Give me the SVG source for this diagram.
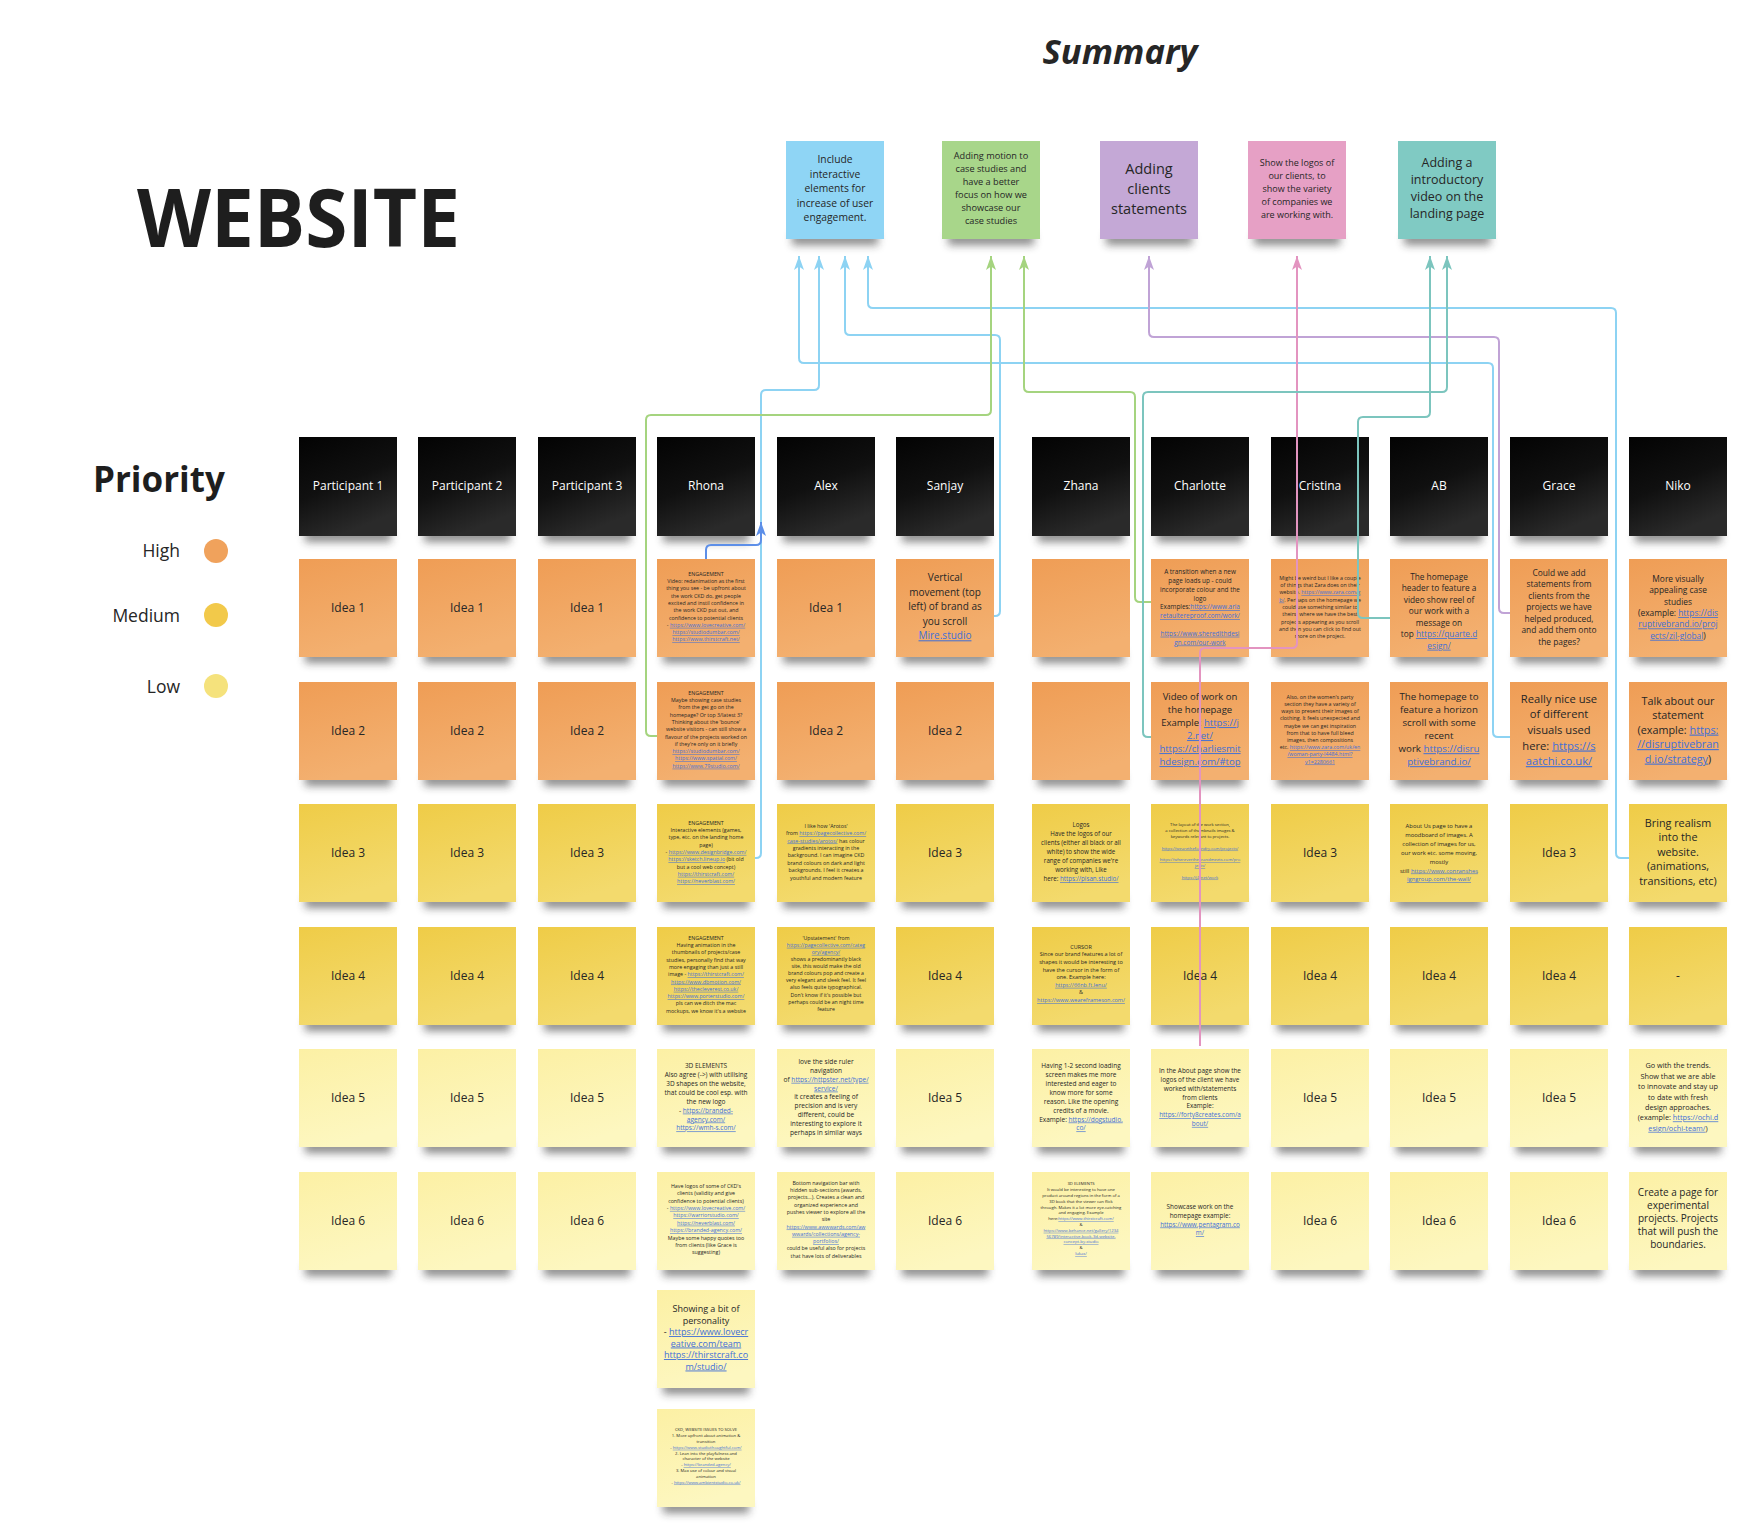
<svg xmlns="http://www.w3.org/2000/svg" width="1762" height="1532" viewBox="0 0 1762 1532">
<defs>
<linearGradient id="gOr" x1="0" y1="0" x2="0.3" y2="1"><stop offset="0" stop-color="#ef9d55"/><stop offset="1" stop-color="#f3b070"/></linearGradient>
<linearGradient id="gMe" x1="0" y1="0" x2="0.3" y2="1"><stop offset="0" stop-color="#efcc47"/><stop offset="1" stop-color="#f3da6d"/></linearGradient>
<linearGradient id="gLo" x1="0" y1="0" x2="0.3" y2="1"><stop offset="0" stop-color="#fcf0a4"/><stop offset="1" stop-color="#fdf7c0"/></linearGradient>
<linearGradient id="gHd" x1="0" y1="0" x2="0.4" y2="1"><stop offset="0" stop-color="#030303"/><stop offset="0.55" stop-color="#101010"/><stop offset="1" stop-color="#2a2a2a"/></linearGradient>
<filter id="sb" x="-20%" y="-100%" width="140%" height="300%"><feGaussianBlur stdDeviation="4"/></filter>
<marker id="mB" viewBox="0 0 14 10" refX="14" refY="5" markerWidth="14" markerHeight="10" markerUnits="userSpaceOnUse" orient="auto"><path d="M0,0 L14,5 L0,10 L3.5,5 Z" fill="#8dd3f3"/></marker>
<marker id="mG" viewBox="0 0 14 10" refX="14" refY="5" markerWidth="14" markerHeight="10" markerUnits="userSpaceOnUse" orient="auto"><path d="M0,0 L14,5 L0,10 L3.5,5 Z" fill="#a5d47f"/></marker>
<marker id="mP" viewBox="0 0 14 10" refX="14" refY="5" markerWidth="14" markerHeight="10" markerUnits="userSpaceOnUse" orient="auto"><path d="M0,0 L14,5 L0,10 L3.5,5 Z" fill="#c0a3d6"/></marker>
<marker id="mK" viewBox="0 0 14 10" refX="14" refY="5" markerWidth="14" markerHeight="10" markerUnits="userSpaceOnUse" orient="auto"><path d="M0,0 L14,5 L0,10 L3.5,5 Z" fill="#e394c0"/></marker>
<marker id="mT" viewBox="0 0 14 10" refX="14" refY="5" markerWidth="14" markerHeight="10" markerUnits="userSpaceOnUse" orient="auto"><path d="M0,0 L14,5 L0,10 L3.5,5 Z" fill="#7cc5be"/></marker>
<marker id="mD" viewBox="0 0 14 10" refX="14" refY="5" markerWidth="14" markerHeight="10" markerUnits="userSpaceOnUse" orient="auto"><path d="M0,0 L14,5 L0,10 L3.5,5 Z" fill="#5d8fe8"/></marker>
</defs>
<style>
text{font-family:'Open Sans','Noto Sans','Liberation Sans',sans-serif;fill:#262626;text-anchor:middle}
.lk{fill:#3f6fd8;text-decoration:underline}
.sh{fill:#2a2a2a;opacity:.55;filter:url(#sb)}
.or{fill:url(#gOr)}
.me{fill:url(#gMe)}
.lo{fill:url(#gLo)}
.hb{fill:url(#gHd)}
.cn{fill:none;stroke-width:2;stroke-linejoin:round}
.bl{stroke:#8dd3f3}.gr{stroke:#a5d47f}.pu{stroke:#c0a3d6}.pk{stroke:#e394c0}.te{stroke:#7cc5be}.db{stroke:#5d8fe8}
.idea{font-size:12px}
.hdt{font-size:12px;fill:#ffffff}
</style>
<rect width="1762" height="1532" fill="#ffffff"/>

<!-- Titles and legend -->
<g id="titles">
<text x="1120" y="64" font-size="34" font-weight="700" font-style="italic" textLength="155" lengthAdjust="spacingAndGlyphs">Summary</text>
<text x="137" y="247" font-size="80" font-weight="700" style="text-anchor:start;fill:#1e1e1e" textLength="323" lengthAdjust="spacingAndGlyphs">WEBSITE</text>
<text x="93" y="492" font-size="35" font-weight="700" style="text-anchor:start;fill:#1e1e1e">Priority</text>
</g>
<g id="legend">
<text x="180" y="557" font-size="17.5" style="text-anchor:end">High</text>
<circle cx="216" cy="551" r="12" fill="#f0a25c"/>
<text x="180" y="622" font-size="17.5" style="text-anchor:end">Medium</text>
<circle cx="216" cy="615" r="12" fill="#f2c94a"/>
<text x="180" y="693" font-size="17.5" style="text-anchor:end">Low</text>
<circle cx="216" cy="686" r="12" fill="#f5e27c"/>
</g>

<!-- Summary notes -->
<g id="sum-blue"><rect class="sh" x="792" y="233" width="86" height="12"/><rect x="786" y="141" width="98" height="98" fill="#8fd5f5"/>
<text font-size="10.3"><tspan x="835" y="163.4">Include</tspan><tspan x="835" dy="14.5">interactive</tspan><tspan x="835" dy="14.5">elements for</tspan><tspan x="835" dy="14.5">increase of user</tspan><tspan x="835" dy="14.5">engagement.</tspan></text></g>
<g id="sum-green"><rect class="sh" x="948" y="233" width="86" height="12"/><rect x="942" y="141" width="98" height="98" fill="#a8d68a"/>
<text font-size="9.2"><tspan x="991" y="159">Adding motion to</tspan><tspan x="991" dy="13">case studies and</tspan><tspan x="991" dy="13">have a better</tspan><tspan x="991" dy="13">focus on how we</tspan><tspan x="991" dy="13">showcase our</tspan><tspan x="991" dy="13">case studies</tspan></text></g>
<g id="sum-purple"><rect class="sh" x="1106" y="233" width="86" height="12"/><rect x="1100" y="141" width="98" height="98" fill="#c4a8d6"/>
<text font-size="14.5"><tspan x="1149" y="173.8">Adding</tspan><tspan x="1149" dy="20">clients</tspan><tspan x="1149" dy="20">statements</tspan></text></g>
<g id="sum-pink"><rect class="sh" x="1254" y="233" width="86" height="12"/><rect x="1248" y="141" width="98" height="98" fill="#e6a0c5"/>
<text font-size="9"><tspan x="1297" y="166">Show the logos of</tspan><tspan x="1297" dy="13">our clients, to</tspan><tspan x="1297" dy="13">show the variety</tspan><tspan x="1297" dy="13">of companies  we</tspan><tspan x="1297" dy="13">are working with.</tspan></text></g>
<g id="sum-teal"><rect class="sh" x="1404" y="233" width="86" height="12"/><rect x="1398" y="141" width="98" height="98" fill="#80cac3"/>
<text font-size="12.5"><tspan x="1447" y="167.1">Adding a</tspan><tspan x="1447" dy="17">introductory</tspan><tspan x="1447" dy="17">video on the</tspan><tspan x="1447" dy="17">landing page</tspan></text></g>

<!-- Headers -->
<g id="h-p1"><rect class="sh" x="305" y="530" width="86" height="12"/><rect class="hb" x="299" y="437" width="98" height="99"/><text class="hdt" x="348" y="490">Participant 1</text></g>
<g id="h-p2"><rect class="sh" x="424" y="530" width="86" height="12"/><rect class="hb" x="418" y="437" width="98" height="99"/><text class="hdt" x="467" y="490">Participant 2</text></g>
<g id="h-p3"><rect class="sh" x="544" y="530" width="86" height="12"/><rect class="hb" x="538" y="437" width="98" height="99"/><text class="hdt" x="587" y="490">Participant 3</text></g>
<g id="h-rhona"><rect class="sh" x="663" y="530" width="86" height="12"/><rect class="hb" x="657" y="437" width="98" height="99"/><text class="hdt" x="706" y="490">Rhona</text></g>
<g id="h-alex"><rect class="sh" x="783" y="530" width="86" height="12"/><rect class="hb" x="777" y="437" width="98" height="99"/><text class="hdt" x="826" y="490">Alex</text></g>
<g id="h-sanjay"><rect class="sh" x="902" y="530" width="86" height="12"/><rect class="hb" x="896" y="437" width="98" height="99"/><text class="hdt" x="945" y="490">Sanjay</text></g>
<g id="h-zhana"><rect class="sh" x="1038" y="530" width="86" height="12"/><rect class="hb" x="1032" y="437" width="98" height="99"/><text class="hdt" x="1081" y="490">Zhana</text></g>
<g id="h-charlotte"><rect class="sh" x="1157" y="530" width="86" height="12"/><rect class="hb" x="1151" y="437" width="98" height="99"/><text class="hdt" x="1200" y="490">Charlotte</text></g>
<g id="h-cristina"><rect class="sh" x="1277" y="530" width="86" height="12"/><rect class="hb" x="1271" y="437" width="98" height="99"/><text class="hdt" x="1320" y="490">Cristina</text></g>
<g id="h-ab"><rect class="sh" x="1396" y="530" width="86" height="12"/><rect class="hb" x="1390" y="437" width="98" height="99"/><text class="hdt" x="1439" y="490">AB</text></g>
<g id="h-grace"><rect class="sh" x="1516" y="530" width="86" height="12"/><rect class="hb" x="1510" y="437" width="98" height="99"/><text class="hdt" x="1559" y="490">Grace</text></g>
<g id="h-niko"><rect class="sh" x="1635" y="530" width="86" height="12"/><rect class="hb" x="1629" y="437" width="98" height="99"/><text class="hdt" x="1678" y="490">Niko</text></g>

<!-- Participant 1..3 -->
<g id="p1-1"><rect class="sh" x="305" y="651" width="86" height="12"/><rect class="or" x="299" y="559" width="98" height="98"/><text class="idea" x="348" y="612">Idea 1</text></g>
<g id="p1-2"><rect class="sh" x="305" y="774" width="86" height="12"/><rect class="or" x="299" y="682" width="98" height="98"/><text class="idea" x="348" y="735">Idea 2</text></g>
<g id="p1-3"><rect class="sh" x="305" y="896" width="86" height="12"/><rect class="me" x="299" y="804" width="98" height="98"/><text class="idea" x="348" y="857">Idea 3</text></g>
<g id="p1-4"><rect class="sh" x="305" y="1019" width="86" height="12"/><rect class="me" x="299" y="927" width="98" height="98"/><text class="idea" x="348" y="980">Idea 4</text></g>
<g id="p1-5"><rect class="sh" x="305" y="1141" width="86" height="12"/><rect class="lo" x="299" y="1049" width="98" height="98"/><text class="idea" x="348" y="1102">Idea 5</text></g>
<g id="p1-6"><rect class="sh" x="305" y="1264" width="86" height="12"/><rect class="lo" x="299" y="1172" width="98" height="98"/><text class="idea" x="348" y="1225">Idea 6</text></g>

<g id="p2-1"><rect class="sh" x="424" y="651" width="86" height="12"/><rect class="or" x="418" y="559" width="98" height="98"/><text class="idea" x="467" y="612">Idea 1</text></g>
<g id="p2-2"><rect class="sh" x="424" y="774" width="86" height="12"/><rect class="or" x="418" y="682" width="98" height="98"/><text class="idea" x="467" y="735">Idea 2</text></g>
<g id="p2-3"><rect class="sh" x="424" y="896" width="86" height="12"/><rect class="me" x="418" y="804" width="98" height="98"/><text class="idea" x="467" y="857">Idea 3</text></g>
<g id="p2-4"><rect class="sh" x="424" y="1019" width="86" height="12"/><rect class="me" x="418" y="927" width="98" height="98"/><text class="idea" x="467" y="980">Idea 4</text></g>
<g id="p2-5"><rect class="sh" x="424" y="1141" width="86" height="12"/><rect class="lo" x="418" y="1049" width="98" height="98"/><text class="idea" x="467" y="1102">Idea 5</text></g>
<g id="p2-6"><rect class="sh" x="424" y="1264" width="86" height="12"/><rect class="lo" x="418" y="1172" width="98" height="98"/><text class="idea" x="467" y="1225">Idea 6</text></g>

<g id="p3-1"><rect class="sh" x="544" y="651" width="86" height="12"/><rect class="or" x="538" y="559" width="98" height="98"/><text class="idea" x="587" y="612">Idea 1</text></g>
<g id="p3-2"><rect class="sh" x="544" y="774" width="86" height="12"/><rect class="or" x="538" y="682" width="98" height="98"/><text class="idea" x="587" y="735">Idea 2</text></g>
<g id="p3-3"><rect class="sh" x="544" y="896" width="86" height="12"/><rect class="me" x="538" y="804" width="98" height="98"/><text class="idea" x="587" y="857">Idea 3</text></g>
<g id="p3-4"><rect class="sh" x="544" y="1019" width="86" height="12"/><rect class="me" x="538" y="927" width="98" height="98"/><text class="idea" x="587" y="980">Idea 4</text></g>
<g id="p3-5"><rect class="sh" x="544" y="1141" width="86" height="12"/><rect class="lo" x="538" y="1049" width="98" height="98"/><text class="idea" x="587" y="1102">Idea 5</text></g>
<g id="p3-6"><rect class="sh" x="544" y="1264" width="86" height="12"/><rect class="lo" x="538" y="1172" width="98" height="98"/><text class="idea" x="587" y="1225">Idea 6</text></g>

<!-- Rhona -->
<g id="rhona-1"><rect class="sh" x="663" y="651" width="86" height="12"/><rect class="or" x="657" y="559" width="98" height="98"/>
<text font-size="5.3"><tspan x="706" y="575.7">ENGAGEMENT</tspan><tspan x="706" dy="7.3">Video: redanimation as the first</tspan><tspan x="706" dy="7.3">thing you see - be upfront about</tspan><tspan x="706" dy="7.3">the work CKD do, get people</tspan><tspan x="706" dy="7.3">excited and instil confidence in</tspan><tspan x="706" dy="7.3">the work CKD put out, and</tspan><tspan x="706" dy="7.3">confidence to potential clients</tspan><tspan x="706" dy="7.3">- <tspan class="lk">https://www.lovecreative.com/</tspan></tspan><tspan x="706" dy="7.3" class="lk">https://studiodumbar.com/</tspan><tspan x="706" dy="7.3" class="lk">https://www.thirstcraft.net/</tspan></text></g>
<g id="rhona-2"><rect class="sh" x="663" y="774" width="86" height="12"/><rect class="or" x="657" y="682" width="98" height="98"/>
<text font-size="5.3"><tspan x="706" y="694.7">ENGAGEMENT</tspan><tspan x="706" dy="7.3">Maybe showing case studies</tspan><tspan x="706" dy="7.3">from the get go on the</tspan><tspan x="706" dy="7.3">homepage? Or top 3/latest 3?</tspan><tspan x="706" dy="7.3">Thinking about the 'bounce'</tspan><tspan x="706" dy="7.3">website visitors - can still show a</tspan><tspan x="706" dy="7.3">flavour of the projects worked on</tspan><tspan x="706" dy="7.3">if they're only on it briefly</tspan><tspan x="706" dy="7.3" class="lk">https://studiodumbar.com/</tspan><tspan x="706" dy="7.3" class="lk">https://www.spatial.com/</tspan><tspan x="706" dy="7.3" class="lk">https://www.79studio.com/</tspan></text></g>
<g id="rhona-3"><rect class="sh" x="663" y="896" width="86" height="12"/><rect class="me" x="657" y="804" width="98" height="98"/>
<text font-size="5.3"><tspan x="706" y="824.7">ENGAGEMENT</tspan><tspan x="706" dy="7.3">Interactive elements (games,</tspan><tspan x="706" dy="7.3">type, etc. on the landing home</tspan><tspan x="706" dy="7.3">page)</tspan><tspan x="706" dy="7.3">- <tspan class="lk">https://www.designbridge.com/</tspan></tspan><tspan x="706" dy="7.3"><tspan class="lk">https://sketch.lineup.io</tspan> (bit old</tspan><tspan x="706" dy="7.3">but a cool web concept)</tspan><tspan x="706" dy="7.3" class="lk">https://thirstcraft.com/</tspan><tspan x="706" dy="7.3" class="lk">https://neverblast.com/</tspan></text></g>
<g id="rhona-4"><rect class="sh" x="663" y="1019" width="86" height="12"/><rect class="me" x="657" y="927" width="98" height="98"/>
<text font-size="5.3"><tspan x="706" y="939.7">ENGAGEMENT</tspan><tspan x="706" dy="7.3">Having animation in the</tspan><tspan x="706" dy="7.3">thumbnails of projects/case</tspan><tspan x="706" dy="7.3">studies, personally find that way</tspan><tspan x="706" dy="7.3">more engaging than just a still</tspan><tspan x="706" dy="7.3">image - <tspan class="lk">https://thirstcraft.com/</tspan></tspan><tspan x="706" dy="7.3" class="lk">https://www.dbmotion.com/</tspan><tspan x="706" dy="7.3" class="lk">https://thecleverest.co.uk/</tspan><tspan x="706" dy="7.3" class="lk">https://www.porterstudio.com/</tspan><tspan x="706" dy="7.3">pls can we ditch the mac</tspan><tspan x="706" dy="7.3">mockups, we know it's a website</tspan></text></g>
<g id="rhona-5"><rect class="sh" x="663" y="1141" width="86" height="12"/><rect class="lo" x="657" y="1049" width="98" height="98"/>
<text font-size="6.5"><tspan x="706" y="1068.1">3D ELEMENTS</tspan><tspan x="706" dy="8.9">Also agree (-&gt;) with utilising</tspan><tspan x="706" dy="8.9">3D shapes on the website,</tspan><tspan x="706" dy="8.9">that could be cool esp. with</tspan><tspan x="706" dy="8.9">the new logo</tspan><tspan x="706" dy="8.9">- <tspan class="lk">https://branded-</tspan></tspan><tspan x="706" dy="8.9" class="lk">agency.com/</tspan><tspan x="706" dy="8.9" class="lk">https://wmh-s.com/</tspan></text></g>
<g id="rhona-6"><rect class="sh" x="663" y="1264" width="86" height="12"/><rect class="lo" x="657" y="1172" width="98" height="98"/>
<text font-size="5.3"><tspan x="706" y="1187.7">Have logos of some of CKD's</tspan><tspan x="706" dy="7.4">clients (validity and give</tspan><tspan x="706" dy="7.4">confidence to potential clients)</tspan><tspan x="706" dy="7.4">- <tspan class="lk">https://www.lovecreative.com/</tspan></tspan><tspan x="706" dy="7.4" class="lk">https://warriorstudio.com/</tspan><tspan x="706" dy="7.4" class="lk">https://neverblast.com/</tspan><tspan x="706" dy="7.4" class="lk">https://branded-agency.com/</tspan><tspan x="706" dy="7.4">Maybe some happy quotes too</tspan><tspan x="706" dy="7.4">from clients (like Grace is</tspan><tspan x="706" dy="7.4">suggesting)</tspan></text></g>
<g id="rhona-7"><rect class="sh" x="663" y="1382" width="86" height="12"/><rect class="lo" x="657" y="1290" width="98" height="98"/>
<text font-size="9"><tspan x="706" y="1312">Showing a bit of</tspan><tspan x="706" dy="11.5">personality</tspan><tspan x="706" dy="11.5">- <tspan class="lk">https://www.lovecr</tspan></tspan><tspan x="706" dy="11.5" class="lk">eative.com/team</tspan><tspan x="706" dy="11.5" class="lk">https://thirstcraft.co</tspan><tspan x="706" dy="11.5" class="lk">m/studio/</tspan></text></g>
<g id="rhona-8"><rect class="sh" x="663" y="1501" width="86" height="12"/><rect class="lo" x="657" y="1409" width="98" height="98"/>
<text font-size="4.2"><tspan x="706" y="1431.4">CKD, WEBSITE ISSUES TO SOLVE</tspan><tspan x="706" dy="5.8">1. More upfront about animation &amp;</tspan><tspan x="706" dy="5.8">transition</tspan><tspan x="706" dy="5.8">- <tspan class="lk">https://www.studiothoughtful.com/</tspan></tspan><tspan x="706" dy="5.8">2. Lean into the playfulness and</tspan><tspan x="706" dy="5.8">character of the website</tspan><tspan x="706" dy="5.8">- <tspan class="lk">https://branded.agency/</tspan></tspan><tspan x="706" dy="5.8">3. Max use of colour and visual</tspan><tspan x="706" dy="5.8">animation</tspan><tspan x="706" dy="5.8">- <tspan class="lk">https://www.ambientstudio.co.uk/</tspan></tspan></text></g>

<!-- Alex -->
<g id="alex-1"><rect class="sh" x="783" y="651" width="86" height="12"/><rect class="or" x="777" y="559" width="98" height="98"/><text class="idea" x="826" y="612">Idea 1</text></g>
<g id="alex-2"><rect class="sh" x="783" y="774" width="86" height="12"/><rect class="or" x="777" y="682" width="98" height="98"/><text class="idea" x="826" y="735">Idea 2</text></g>
<g id="alex-3"><rect class="sh" x="783" y="896" width="86" height="12"/><rect class="me" x="777" y="804" width="98" height="98"/>
<text font-size="5.3"><tspan x="826" y="827.7">I like how 'Arotos'</tspan><tspan x="826" dy="7.4">from <tspan class="lk">https://pagecollective.com/</tspan></tspan><tspan x="826" dy="7.4"><tspan class="lk">case-studies/arotos/</tspan> has colour</tspan><tspan x="826" dy="7.4">gradients interacting in the</tspan><tspan x="826" dy="7.4">background. I can imagine CKD</tspan><tspan x="826" dy="7.4">brand colours on dark and light</tspan><tspan x="826" dy="7.4">backgrounds. I feel it creates a</tspan><tspan x="826" dy="7.4">youthful and modern feature</tspan></text></g>
<g id="alex-4"><rect class="sh" x="783" y="1019" width="86" height="12"/><rect class="me" x="777" y="927" width="98" height="98"/>
<text font-size="5.2"><tspan x="826" y="939.7">'Upstatement' from</tspan><tspan x="826" dy="7.1" class="lk">https://pagecollective.com/categ</tspan><tspan x="826" dy="7.1" class="lk">ory/agency/</tspan><tspan x="826" dy="7.1">shows a predominantly black</tspan><tspan x="826" dy="7.1">site, this would make the old</tspan><tspan x="826" dy="7.1">brand colours pop and create a</tspan><tspan x="826" dy="7.1">very elegant and sleek feel. It feel</tspan><tspan x="826" dy="7.1">also feels quite typographical.</tspan><tspan x="826" dy="7.1">Don't know if it's possible but</tspan><tspan x="826" dy="7.1">perhaps could be an night time</tspan><tspan x="826" dy="7.1">feature</tspan></text></g>
<g id="alex-5"><rect class="sh" x="783" y="1141" width="86" height="12"/><rect class="lo" x="777" y="1049" width="98" height="98"/>
<text font-size="6.6"><tspan x="826" y="1064.2">love the side ruler</tspan><tspan x="826" dy="8.8">navigation</tspan><tspan x="826" dy="8.8">of <tspan class="lk">https://httpster.net/type/</tspan></tspan><tspan x="826" dy="8.8" class="lk">service/</tspan><tspan x="826" dy="8.8">it creates a feeling of</tspan><tspan x="826" dy="8.8">precision and is very</tspan><tspan x="826" dy="8.8">different, could be</tspan><tspan x="826" dy="8.8">interesting to explore it</tspan><tspan x="826" dy="8.8">perhaps in similar ways</tspan></text></g>
<g id="alex-6"><rect class="sh" x="783" y="1264" width="86" height="12"/><rect class="lo" x="777" y="1172" width="98" height="98"/>
<text font-size="5.3"><tspan x="826" y="1184.7">Bottom navigation bar with</tspan><tspan x="826" dy="7.3">hidden sub-sections (awards,</tspan><tspan x="826" dy="7.3">projects...). Creates a clean and</tspan><tspan x="826" dy="7.3">organized experience and</tspan><tspan x="826" dy="7.3">pushes viewer to explore all the</tspan><tspan x="826" dy="7.3">site</tspan><tspan x="826" dy="7.3" class="lk">https://www.awwwards.com/aw</tspan><tspan x="826" dy="7.3" class="lk">wwards/collections/agency-</tspan><tspan x="826" dy="7.3" class="lk">portfolios/</tspan><tspan x="826" dy="7.3">could be useful also for projects</tspan><tspan x="826" dy="7.3">that have lots of deliverables</tspan></text></g>

<!-- Sanjay -->
<g id="sanjay-1"><rect class="sh" x="902" y="651" width="86" height="12"/><rect class="or" x="896" y="559" width="98" height="98"/>
<text font-size="10"><tspan x="945" y="581.3">Vertical</tspan><tspan x="945" dy="14.5">movement (top</tspan><tspan x="945" dy="14.5">left) of brand as</tspan><tspan x="945" dy="14.5">you scroll</tspan><tspan x="945" dy="14.5" class="lk">Mire.studio</tspan></text></g>
<g id="sanjay-2"><rect class="sh" x="902" y="774" width="86" height="12"/><rect class="or" x="896" y="682" width="98" height="98"/><text class="idea" x="945" y="735">Idea 2</text></g>
<g id="sanjay-3"><rect class="sh" x="902" y="896" width="86" height="12"/><rect class="me" x="896" y="804" width="98" height="98"/><text class="idea" x="945" y="857">Idea 3</text></g>
<g id="sanjay-4"><rect class="sh" x="902" y="1019" width="86" height="12"/><rect class="me" x="896" y="927" width="98" height="98"/><text class="idea" x="945" y="980">Idea 4</text></g>
<g id="sanjay-5"><rect class="sh" x="902" y="1141" width="86" height="12"/><rect class="lo" x="896" y="1049" width="98" height="98"/><text class="idea" x="945" y="1102">Idea 5</text></g>
<g id="sanjay-6"><rect class="sh" x="902" y="1264" width="86" height="12"/><rect class="lo" x="896" y="1172" width="98" height="98"/><text class="idea" x="945" y="1225">Idea 6</text></g>

<!-- Zhana -->
<g id="zhana-1"><rect class="sh" x="1038" y="651" width="86" height="12"/><rect class="or" x="1032" y="559" width="98" height="98"/></g>
<g id="zhana-2"><rect class="sh" x="1038" y="774" width="86" height="12"/><rect class="or" x="1032" y="682" width="98" height="98"/></g>
<g id="zhana-3"><rect class="sh" x="1038" y="896" width="86" height="12"/><rect class="me" x="1032" y="804" width="98" height="98"/>
<text font-size="6.2"><tspan x="1081" y="827">Logos</tspan><tspan x="1081" dy="9">Have the logos of our</tspan><tspan x="1081" dy="9">clients (either all black or all</tspan><tspan x="1081" dy="9">white) to show the wide</tspan><tspan x="1081" dy="9">range of companies we're</tspan><tspan x="1081" dy="9">working with, Like</tspan><tspan x="1081" dy="9">here: <tspan class="lk">https://pisan.studio/</tspan></tspan></text></g>
<g id="zhana-4"><rect class="sh" x="1038" y="1019" width="86" height="12"/><rect class="me" x="1032" y="927" width="98" height="98"/>
<text font-size="5.5"><tspan x="1081" y="948.8">CURSOR</tspan><tspan x="1081" dy="7.6">Since our brand features a lot of</tspan><tspan x="1081" dy="7.6">shapes it would be interesting to</tspan><tspan x="1081" dy="7.6">have the cursor in the form of</tspan><tspan x="1081" dy="7.6">one. Example here:</tspan><tspan x="1081" dy="7.6" class="lk">https://66nb.ft.lenu/</tspan><tspan x="1081" dy="7.6">&amp;</tspan><tspan x="1081" dy="7.6" class="lk">https://www.weareframeson.com/</tspan></text></g>
<g id="zhana-5"><rect class="sh" x="1038" y="1141" width="86" height="12"/><rect class="lo" x="1032" y="1049" width="98" height="98"/>
<text font-size="6.5"><tspan x="1081" y="1068.1">Having 1-2 second loading</tspan><tspan x="1081" dy="8.9">screen makes me more</tspan><tspan x="1081" dy="8.9">interested and eager to</tspan><tspan x="1081" dy="8.9">know more for some</tspan><tspan x="1081" dy="8.9">reason. Like the opening</tspan><tspan x="1081" dy="8.9">credits of a movie.</tspan><tspan x="1081" dy="8.9">Example: <tspan class="lk">https://dogstudio.</tspan></tspan><tspan x="1081" dy="8.9" class="lk">co/</tspan></text></g>
<g id="zhana-6"><rect class="sh" x="1038" y="1264" width="86" height="12"/><rect class="lo" x="1032" y="1172" width="98" height="98"/>
<text font-size="4.2"><tspan x="1081" y="1185.4">3D ELEMENTS</tspan><tspan x="1081" dy="5.8">It would be interesting to have one</tspan><tspan x="1081" dy="5.8">product around regions in the form of a</tspan><tspan x="1081" dy="5.8">3D book that the viewer can flick</tspan><tspan x="1081" dy="5.8">through. Makes it a lot more eye-catching</tspan><tspan x="1081" dy="5.8">and engaging. Example</tspan><tspan x="1081" dy="5.8">here:<tspan class="lk">https://www.thirstcraft.com/</tspan></tspan><tspan x="1081" dy="5.8">&amp;</tspan><tspan x="1081" dy="5.8" class="lk">https://www.behance.net/gallery/1234</tspan><tspan x="1081" dy="5.8" class="lk">56789/interactive-book-3d-website-</tspan><tspan x="1081" dy="5.8" class="lk">concept-by-studio</tspan><tspan x="1081" dy="5.8">&amp;</tspan><tspan x="1081" dy="5.8" class="lk">lukas/</tspan></text></g>

<!-- Charlotte -->
<g id="charlotte-1"><rect class="sh" x="1157" y="651" width="86" height="12"/><rect class="or" x="1151" y="559" width="98" height="98"/>
<text font-size="6.4"><tspan x="1200" y="574.1">A transition when a new</tspan><tspan x="1200" dy="8.8">page loads up - could</tspan><tspan x="1200" dy="8.8">incorporate colour and the</tspan><tspan x="1200" dy="8.8">logo</tspan><tspan x="1200" dy="8.8">Examples:<tspan class="lk">https://www.aria</tspan></tspan><tspan x="1200" dy="8.8" class="lk">retaultereproof.com/work/</tspan><tspan x="1200" dy="17.6" class="lk">https://www.sheredithdesi</tspan><tspan x="1200" dy="8.8" class="lk">gn.com/our-work</tspan></text></g>
<g id="charlotte-2"><rect class="sh" x="1157" y="774" width="86" height="12"/><rect class="or" x="1151" y="682" width="98" height="98"/>
<text font-size="9.5"><tspan x="1200" y="700.1">Video of work on</tspan><tspan x="1200" dy="13">the homepage</tspan><tspan x="1200" dy="13">Example: <tspan class="lk">https://j</tspan></tspan><tspan x="1200" dy="13" class="lk">2.net/</tspan><tspan x="1200" dy="13" class="lk">https://charliesmit</tspan><tspan x="1200" dy="13" class="lk">hdesign.com/#top</tspan></text></g>
<g id="charlotte-3"><rect class="sh" x="1157" y="896" width="86" height="12"/><rect class="me" x="1151" y="804" width="98" height="98"/>
<text font-size="4.2"><tspan x="1200" y="826.4">The layout of the work section,</tspan><tspan x="1200" dy="5.8">a collection of thumbnails images &amp;</tspan><tspan x="1200" dy="5.8">keywords relevant to projects.</tspan><tspan x="1200" dy="11.6" class="lk">https://wearethefoundry.com/projects/</tspan><tspan x="1200" dy="11.6" class="lk">https://whereverthebrandmeets.com/pro</tspan><tspan x="1200" dy="5.8" class="lk">jects/</tspan><tspan x="1200" dy="11.6" class="lk">https://j2.net/work</tspan></text></g>
<g id="charlotte-4"><rect class="sh" x="1157" y="1019" width="86" height="12"/><rect class="me" x="1151" y="927" width="98" height="98"/><text class="idea" x="1200" y="980">Idea 4</text></g>
<g id="charlotte-5"><rect class="sh" x="1157" y="1141" width="86" height="12"/><rect class="lo" x="1151" y="1049" width="98" height="98"/>
<text font-size="6.4"><tspan x="1200" y="1073.1">In the About page show the</tspan><tspan x="1200" dy="8.8">logos of the client we have</tspan><tspan x="1200" dy="8.8">worked with/statements</tspan><tspan x="1200" dy="8.8">from clients</tspan><tspan x="1200" dy="8.8">Example:</tspan><tspan x="1200" dy="8.8" class="lk">https://forty8creates.com/a</tspan><tspan x="1200" dy="8.8" class="lk">bout/</tspan></text></g>
<g id="charlotte-6"><rect class="sh" x="1157" y="1264" width="86" height="12"/><rect class="lo" x="1151" y="1172" width="98" height="98"/>
<text font-size="6.4"><tspan x="1200" y="1209.1">Showcase work on the</tspan><tspan x="1200" dy="8.7">homepage example:</tspan><tspan x="1200" dy="8.7" class="lk">https://www.pentagram.co</tspan><tspan x="1200" dy="8.7" class="lk">m/</tspan></text></g>

<!-- Cristina -->
<g id="cristina-1"><rect class="sh" x="1277" y="651" width="86" height="12"/><rect class="or" x="1271" y="559" width="98" height="98"/>
<text font-size="5.3"><tspan x="1320" y="579.7">Might be weird but I like a couple</tspan><tspan x="1320" dy="7.3">of things that Zara does on their</tspan><tspan x="1320" dy="7.3">website. <tspan class="lk">https://www.zara.com/g</tspan></tspan><tspan x="1320" dy="7.3"><tspan class="lk">b/</tspan>. Perhaps on the homepage we</tspan><tspan x="1320" dy="7.3">could use something similar to</tspan><tspan x="1320" dy="7.3">theirs, where we have the best</tspan><tspan x="1320" dy="7.3">projects appearing as you scroll</tspan><tspan x="1320" dy="7.3">and then you can click to find out</tspan><tspan x="1320" dy="7.3">more on the project.</tspan></text></g>
<g id="cristina-2"><rect class="sh" x="1277" y="774" width="86" height="12"/><rect class="or" x="1271" y="682" width="98" height="98"/>
<text font-size="5.3"><tspan x="1320" y="698.7">Also, on the women's party</tspan><tspan x="1320" dy="7.2">section they have a variety of</tspan><tspan x="1320" dy="7.2">ways to present their images of</tspan><tspan x="1320" dy="7.2">clothing. It feels unexpected and</tspan><tspan x="1320" dy="7.2">maybe we can get inspiration</tspan><tspan x="1320" dy="7.2">from that to have full bleed</tspan><tspan x="1320" dy="7.2">images, then compositions</tspan><tspan x="1320" dy="7.2">etc. <tspan class="lk">https://www.zara.com/uk/en</tspan></tspan><tspan x="1320" dy="7.2" class="lk">/woman-party-l4484.html?</tspan><tspan x="1320" dy="7.2" class="lk">v1=2280661</tspan></text></g>
<g id="cristina-3"><rect class="sh" x="1277" y="896" width="86" height="12"/><rect class="me" x="1271" y="804" width="98" height="98"/><text class="idea" x="1320" y="857">Idea 3</text></g>
<g id="cristina-4"><rect class="sh" x="1277" y="1019" width="86" height="12"/><rect class="me" x="1271" y="927" width="98" height="98"/><text class="idea" x="1320" y="980">Idea 4</text></g>
<g id="cristina-5"><rect class="sh" x="1277" y="1141" width="86" height="12"/><rect class="lo" x="1271" y="1049" width="98" height="98"/><text class="idea" x="1320" y="1102">Idea 5</text></g>
<g id="cristina-6"><rect class="sh" x="1277" y="1264" width="86" height="12"/><rect class="lo" x="1271" y="1172" width="98" height="98"/><text class="idea" x="1320" y="1225">Idea 6</text></g>

<!-- AB -->
<g id="ab-1"><rect class="sh" x="1396" y="651" width="86" height="12"/><rect class="or" x="1390" y="559" width="98" height="98"/>
<text font-size="8.3"><tspan x="1439" y="579.7">The homepage</tspan><tspan x="1439" dy="11.5">header to feature a</tspan><tspan x="1439" dy="11.5">video show reel of</tspan><tspan x="1439" dy="11.5">our work with a</tspan><tspan x="1439" dy="11.5">message on</tspan><tspan x="1439" dy="11.5">top <tspan class="lk">https://quarte.d</tspan></tspan><tspan x="1439" dy="11.5" class="lk">esign/</tspan></text></g>
<g id="ab-2"><rect class="sh" x="1396" y="774" width="86" height="12"/><rect class="or" x="1390" y="682" width="98" height="98"/>
<text font-size="9.7"><tspan x="1439" y="700.2">The homepage to</tspan><tspan x="1439" dy="13">feature a horizon</tspan><tspan x="1439" dy="13">scroll with some</tspan><tspan x="1439" dy="13">recent</tspan><tspan x="1439" dy="13">work <tspan class="lk">https://disru</tspan></tspan><tspan x="1439" dy="13" class="lk">ptivebrand.io/</tspan></text></g>
<g id="ab-3"><rect class="sh" x="1396" y="896" width="86" height="12"/><rect class="me" x="1390" y="804" width="98" height="98"/>
<text font-size="5.9"><tspan x="1439" y="828">About Us page to have a</tspan><tspan x="1439" dy="8.9">moodboard of images. A</tspan><tspan x="1439" dy="8.9">collection of images for us,</tspan><tspan x="1439" dy="8.9">our work etc. some moving,</tspan><tspan x="1439" dy="8.9">mostly</tspan><tspan x="1439" dy="8.9">still <tspan class="lk">https://www.conranshes</tspan></tspan><tspan x="1439" dy="8.9" class="lk">igngroup.com/the-wall/</tspan></text></g>
<g id="ab-4"><rect class="sh" x="1396" y="1019" width="86" height="12"/><rect class="me" x="1390" y="927" width="98" height="98"/><text class="idea" x="1439" y="980">Idea 4</text></g>
<g id="ab-5"><rect class="sh" x="1396" y="1141" width="86" height="12"/><rect class="lo" x="1390" y="1049" width="98" height="98"/><text class="idea" x="1439" y="1102">Idea 5</text></g>
<g id="ab-6"><rect class="sh" x="1396" y="1264" width="86" height="12"/><rect class="lo" x="1390" y="1172" width="98" height="98"/><text class="idea" x="1439" y="1225">Idea 6</text></g>

<!-- Grace -->
<g id="grace-1"><rect class="sh" x="1516" y="651" width="86" height="12"/><rect class="or" x="1510" y="559" width="98" height="98"/>
<text font-size="8.4"><tspan x="1559" y="575.8">Could we add</tspan><tspan x="1559" dy="11.5">statements  from</tspan><tspan x="1559" dy="11.5">clients from the</tspan><tspan x="1559" dy="11.5">projects we have</tspan><tspan x="1559" dy="11.5">helped produced,</tspan><tspan x="1559" dy="11.5">and add them onto</tspan><tspan x="1559" dy="11.5">the pages?</tspan></text></g>
<g id="grace-2"><rect class="sh" x="1516" y="774" width="86" height="12"/><rect class="or" x="1510" y="682" width="98" height="98"/>
<text font-size="11.2"><tspan x="1559" y="702.7">Really nice use</tspan><tspan x="1559" dy="15.6">of different</tspan><tspan x="1559" dy="15.6">visuals used</tspan><tspan x="1559" dy="15.6">here: <tspan class="lk">https://s</tspan></tspan><tspan x="1559" dy="15.6" class="lk">aatchi.co.uk/</tspan></text></g>
<g id="grace-3"><rect class="sh" x="1516" y="896" width="86" height="12"/><rect class="me" x="1510" y="804" width="98" height="98"/><text class="idea" x="1559" y="857">Idea 3</text></g>
<g id="grace-4"><rect class="sh" x="1516" y="1019" width="86" height="12"/><rect class="me" x="1510" y="927" width="98" height="98"/><text class="idea" x="1559" y="980">Idea 4</text></g>
<g id="grace-5"><rect class="sh" x="1516" y="1141" width="86" height="12"/><rect class="lo" x="1510" y="1049" width="98" height="98"/><text class="idea" x="1559" y="1102">Idea 5</text></g>
<g id="grace-6"><rect class="sh" x="1516" y="1264" width="86" height="12"/><rect class="lo" x="1510" y="1172" width="98" height="98"/><text class="idea" x="1559" y="1225">Idea 6</text></g>

<!-- Niko -->
<g id="niko-1"><rect class="sh" x="1635" y="651" width="86" height="12"/><rect class="or" x="1629" y="559" width="98" height="98"/>
<text font-size="8.4"><tspan x="1678" y="581.8">More visually</tspan><tspan x="1678" dy="11.4">appealing case</tspan><tspan x="1678" dy="11.4">studies</tspan><tspan x="1678" dy="11.4">(example: <tspan class="lk">https://dis</tspan></tspan><tspan x="1678" dy="11.4" class="lk">ruptivebrand.io/proj</tspan><tspan x="1678" dy="11.4"><tspan class="lk">ects/zil-global</tspan>)</tspan></text></g>
<g id="niko-2"><rect class="sh" x="1635" y="774" width="86" height="12"/><rect class="or" x="1629" y="682" width="98" height="98"/>
<text font-size="10.8"><tspan x="1678" y="704.6">Talk about our</tspan><tspan x="1678" dy="14.5">statement</tspan><tspan x="1678" dy="14.5">(example: <tspan class="lk">https:</tspan></tspan><tspan x="1678" dy="14.5" class="lk">//disruptivebran</tspan><tspan x="1678" dy="14.5"><tspan class="lk">d.io/strategy</tspan>)</tspan></text></g>
<g id="niko-3"><rect class="sh" x="1635" y="896" width="86" height="12"/><rect class="me" x="1629" y="804" width="98" height="98"/>
<text font-size="10.8"><tspan x="1678" y="826.6">Bring realism</tspan><tspan x="1678" dy="14.6">into the</tspan><tspan x="1678" dy="14.6">website.</tspan><tspan x="1678" dy="14.6">(animations,</tspan><tspan x="1678" dy="14.6">transitions, etc)</tspan></text></g>
<g id="niko-4"><rect class="sh" x="1635" y="1019" width="86" height="12"/><rect class="me" x="1629" y="927" width="98" height="98"/><text class="idea" x="1678" y="980">-</text></g>
<g id="niko-5"><rect class="sh" x="1635" y="1141" width="86" height="12"/><rect class="lo" x="1629" y="1049" width="98" height="98"/>
<text font-size="7.3"><tspan x="1678" y="1068.4">Go with the trends.</tspan><tspan x="1678" dy="10.4">Show that we are able</tspan><tspan x="1678" dy="10.4">to innovate and stay up</tspan><tspan x="1678" dy="10.4">to date with fresh</tspan><tspan x="1678" dy="10.4">design approaches.</tspan><tspan x="1678" dy="10.4">(example: <tspan class="lk">https://ochi.d</tspan></tspan><tspan x="1678" dy="10.4"><tspan class="lk">esign/ochi-team/</tspan>)</tspan></text></g>
<g id="niko-6"><rect class="sh" x="1635" y="1264" width="86" height="12"/><rect class="lo" x="1629" y="1172" width="98" height="98"/>
<text font-size="10"><tspan x="1678" y="1196.3">Create a page for</tspan><tspan x="1678" dy="13">experimental</tspan><tspan x="1678" dy="13">projects. Projects</tspan><tspan x="1678" dy="13">that will push the</tspan><tspan x="1678" dy="13">boundaries.</tspan></text></g>

<!-- Connectors -->
<g id="connectors">
<path class="cn bl" marker-end="url(#mB)" d="M1510,737 H1498 Q1493,737 1493,732 V368 Q1493,363 1488,363 H804 Q799,363 799,358 V256"/>
<path class="cn bl" marker-end="url(#mB)" d="M755,858 H756 Q761,858 761,853 V395 Q761,390 766,390 H814 Q819,390 819,385 V256"/>
<path class="cn bl" marker-end="url(#mB)" d="M994,616 H995 Q1000,616 1000,611 V340 Q1000,335 995,335 H850 Q845,335 845,330 V256"/>
<path class="cn bl" marker-end="url(#mB)" d="M1629,858 H1621 Q1616,858 1616,853 V313 Q1616,308 1611,308 H873 Q868,308 868,303 V256"/>
<path class="cn gr" marker-end="url(#mG)" d="M657,736 H651 Q646,736 646,731 V420 Q646,415 651,415 H986 Q991,415 991,410 V256"/>
<path class="cn gr" marker-end="url(#mG)" d="M1151,602 H1140 Q1135,602 1135,597 V397 Q1135,392 1130,392 H1029 Q1024,392 1024,387 V256"/>
<path class="cn pu" marker-end="url(#mP)" d="M1510,613 H1504 Q1499,613 1499,608 V342 Q1499,337 1494,337 H1154 Q1149,337 1149,332 V256"/>
<path class="cn pk" marker-end="url(#mK)" d="M1200,1046 V653 Q1200,648 1205,648 H1292 Q1297,648 1297,643 V256"/>
<path class="cn te" marker-end="url(#mT)" d="M1390,618 H1363 Q1358,618 1358,613 V422 Q1358,417 1363,417 H1425 Q1430,417 1430,412 V256"/>
<path class="cn te" marker-end="url(#mT)" d="M1151,737 H1148 Q1143,737 1143,732 V397 Q1143,392 1148,392 H1442 Q1447,392 1447,387 V256"/>
<path class="cn db" marker-end="url(#mD)" d="M706,559 V550 Q706,545 711,545 H756 Q761,545 761,540 V522"/>
</g>
</svg>
